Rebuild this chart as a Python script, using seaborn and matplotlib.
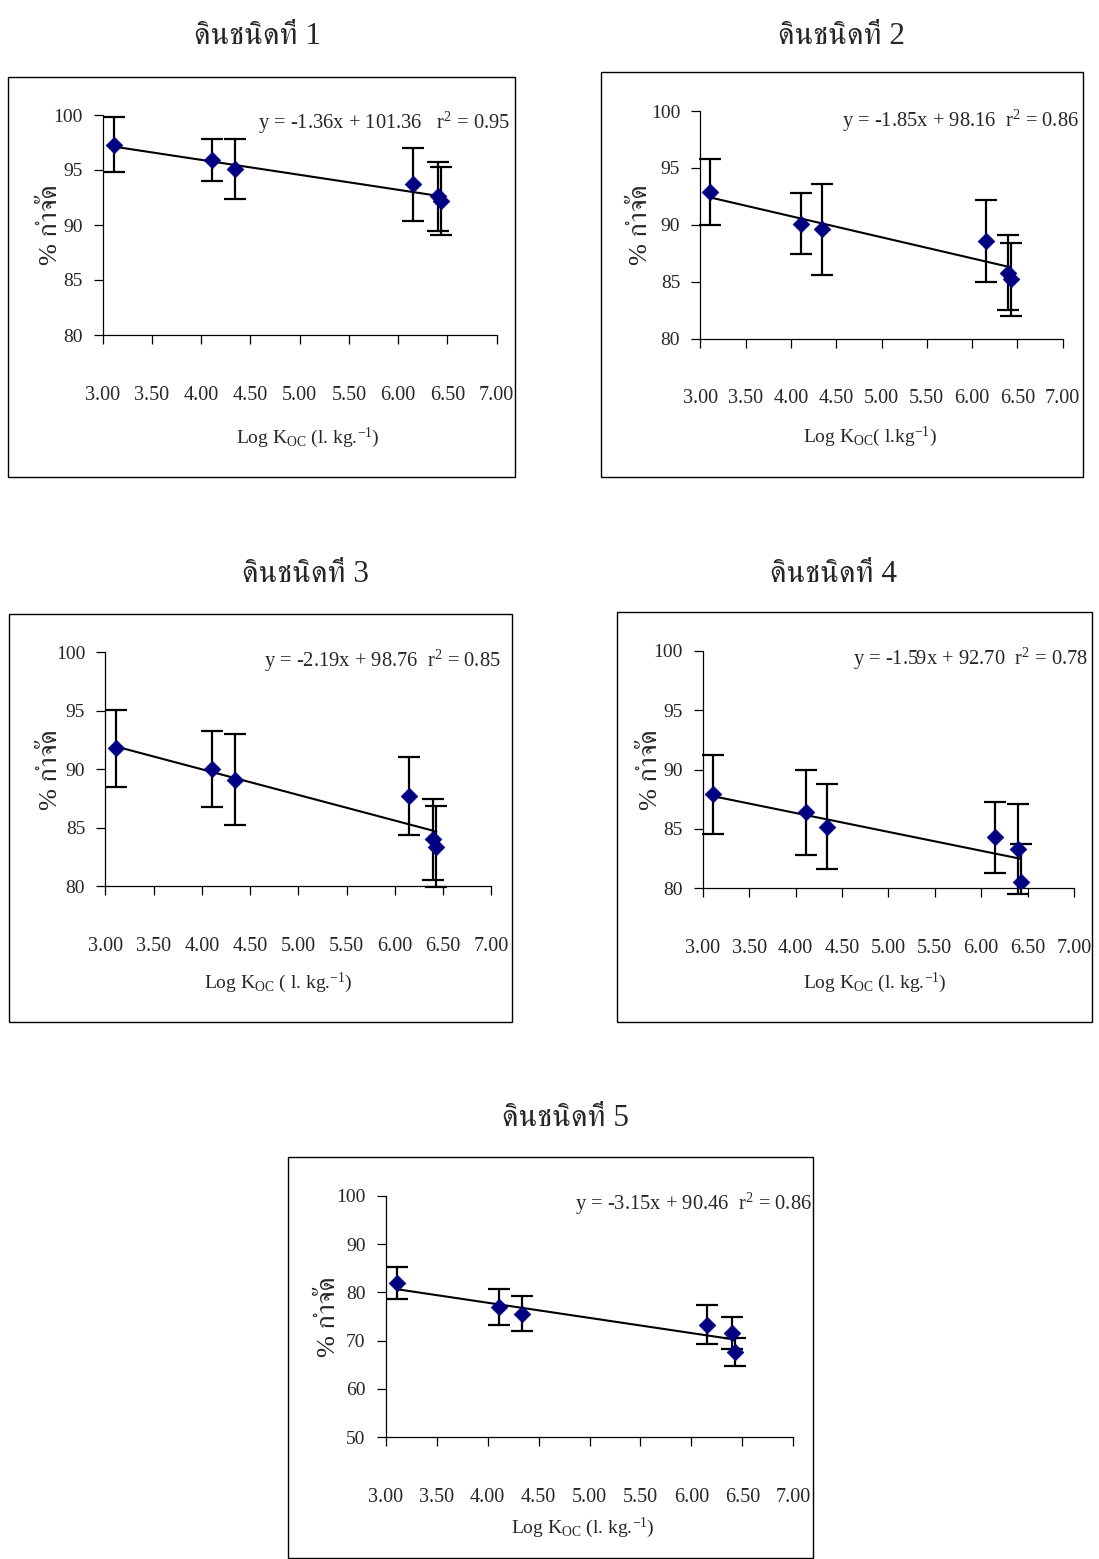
import numpy as np
import pandas as pd
import matplotlib
matplotlib.use("Agg")
import matplotlib.pyplot as plt
import seaborn as sns
from matplotlib import font_manager
from matplotlib.ft2font import FT2Font
from matplotlib.patches import Rectangle

# ---------------- data ----------------
log_koc = [3.11, 4.11, 4.34, 6.15, 6.40, 6.43]

soil_titles = ["ดินชนิดที่ 1", "ดินชนิดที่ 2", "ดินชนิดที่ 3", "ดินชนิดที่ 4", "ดินชนิดที่ 5"]

removal_soil1 = [97.3, 95.9, 95.1, 93.7, 92.6, 92.2]
error_soil1 = [2.5, 1.9, 2.7, 3.3, 3.1, 3.1]
removal_soil2 = [92.9, 90.1, 89.6, 88.6, 85.8, 85.2]
error_soil2 = [2.9, 2.7, 4.0, 3.6, 3.3, 3.2]
removal_soil3 = [91.8, 90.0, 89.1, 87.7, 84.0, 83.4]
error_soil3 = [3.3, 3.25, 3.9, 3.35, 3.5, 3.45]
removal_soil4 = [87.9, 86.4, 85.2, 84.3, 83.3, 80.5]
error_soil4 = [3.35, 3.6, 3.6, 3.0, 3.8, 3.2]
removal_soil5 = [82.0, 76.9, 75.6, 73.3, 71.5, 67.6]
error_soil5 = [3.3, 3.75, 3.7, 4.0, 3.3, 2.9]

slopes = [-1.36, -1.85, -2.19, -1.59, -3.15]
intercepts = [101.36, 98.16, 98.76, 92.70, 90.46]
r_squared = [0.95, 0.86, 0.85, 0.78, 0.86]

x_ticks = [3.00, 3.50, 4.00, 4.50, 5.00, 5.50, 6.00, 6.50, 7.00]
y_ticks_soil1to4 = [80, 85, 90, 95, 100]
y_ticks_soil5 = [50, 60, 70, 80, 90, 100]

y_label = "% กำจัด"
x_labels = [
    r"Log K$_{\mathrm{OC}}$ (l. kg.$^{\mathrm{-1}}$)",
    r"Log K$_{\mathrm{OC}}$( l.kg$^{\mathrm{-1}}$)",
    r"Log K$_{\mathrm{OC}}$ ( l. kg.$^{\mathrm{-1}}$)",
    r"Log K$_{\mathrm{OC}}$ (l. kg.$^{\mathrm{-1}}$)",
    r"Log K$_{\mathrm{OC}}$ (l. kg.$^{\mathrm{-1}}$)",
]

removals = [removal_soil1, removal_soil2, removal_soil3, removal_soil4, removal_soil5]
errors = [error_soil1, error_soil2, error_soil3, error_soil4, error_soil5]
yticks_all = [y_ticks_soil1to4] * 4 + [y_ticks_soil5]

# ---------------- style ----------------
sns.set_style("white")

thai_fonts = []
for fe in font_manager.fontManager.ttflist:
    try:
        cm = FT2Font(fe.fname).get_charmap()
        if 0x0E14 in cm and 0x0E34 in cm:
            thai_fonts.append(fe.name)
    except Exception:
        pass
thai_fonts = sorted(set(thai_fonts), key=lambda n: (0 if n == "FreeSerif" else (1 if "Serif" in n else 2), n))
thai_font = thai_fonts[0] if thai_fonts else "DejaVu Sans"

serif = "Liberation Serif"
plt.rcParams["font.family"] = [serif, thai_font, "DejaVu Sans"]
plt.rcParams["mathtext.fontset"] = "custom"
plt.rcParams["mathtext.rm"] = serif
plt.rcParams["mathtext.it"] = serif
plt.rcParams["mathtext.bf"] = serif

W, H = 1099, 1559
fig = plt.figure(figsize=(W / 100, H / 100), dpi=100)
fig.patch.set_facecolor("white")

# layout in pixels
axes_px = [(102.7, 115, 496.7, 335), (700.3, 111, 1062.7, 338.7),
           (105.3, 652.3, 491.3, 886.3), (702.7, 650.7, 1074, 888.3),
           (385.6, 1196, 793.4, 1437)]
frames_px = [(8, 77, 515, 477), (601, 72, 1083, 477), (9, 614, 512, 1022),
             (617, 612, 1092, 1022), (288, 1157, 813, 1558)]
title_px = [(257, 36), (842, 36), (305, 574), (833, 574), (566, 1118)]
eq_px = [(510, 123), (1079, 121), (501, 661), (1088, 659), (812, 1204)]
xlabel_px = [(308, 438), (870, 437), (278, 983), (875, 983), (583, 1528)]
ylabel_off = [41, 48, 43, 41, 46]

for i in range(5):
    x0, y0, x1, y1 = axes_px[i]
    ax = fig.add_axes([x0 / W, 1 - y1 / H, (x1 - x0) / W, (y1 - y0) / H])
    ax.set_facecolor("none")
    df = pd.DataFrame({"log_koc": log_koc, "removal": removals[i], "err": errors[i]})
    yt = yticks_all[i]

    # error bars
    eb = ax.errorbar(df["log_koc"], df["removal"], yerr=df["err"], fmt="none",
                     ecolor="black", elinewidth=1.6, capsize=8, capthick=1.6, zorder=3)
    clip = Rectangle((-0.05, -0.03), 1.1, 1.2, transform=ax.transAxes, visible=False)
    for art in list(eb.lines[1]) + list(eb.lines[2]):
        art.set_clip_path(clip)

    # trend line from the reported regression
    xs = np.array([min(log_koc), max(log_koc)])
    line_df = pd.DataFrame({"x": xs, "y": intercepts[i] + slopes[i] * xs})
    sns.lineplot(data=line_df, x="x", y="y", color="black", linewidth=1.5, ax=ax, zorder=2)

    sns.scatterplot(data=df, x="log_koc", y="removal", marker="D", s=72,
                    color="#000080", edgecolor="#000080", linewidth=0.5,
                    ax=ax, zorder=4, legend=False)

    ax.set_xlim(3, 7)
    ax.set_ylim(yt[0], yt[-1])
    ax.set_xticks(x_ticks)
    ax.set_xticklabels([f"{v:.2f}" for v in x_ticks])
    ax.set_yticks(yt)
    ax.set_yticklabels([str(v) for v in yt])
    for s in ["top", "right"]:
        ax.spines[s].set_visible(False)
    for s in ["left", "bottom"]:
        ax.spines[s].set_color("black")
        ax.spines[s].set_linewidth(0.9)
    ax.tick_params(axis="both", direction="out", length=6.5, width=0.9, color="black",
                   bottom=True, left=True)
    ax.tick_params(axis="x", labelsize=14.5, pad=30)
    ax.tick_params(axis="y", labelsize=14, pad=8)
    ax.set_xlabel("")
    ax.set_ylabel(y_label, fontsize=19)
    ax.yaxis.set_label_coords(-ylabel_off[i] / (x1 - x0), 0.5)

    fx0, fy0, fx1, fy1 = frames_px[i]
    fig.patches.append(Rectangle((fx0 / W, 1 - fy1 / H), (fx1 - fx0) / W, (fy1 - fy0) / H,
                                 transform=fig.transFigure, fill=False, edgecolor="black",
                                 linewidth=1.0))

    tx, ty = title_px[i]
    fig.text(tx / W, 1 - ty / H, soil_titles[i], ha="center", va="center", fontsize=22.5)

    ex, ey = eq_px[i]
    gap = "   " if i == 0 else "  "
    eq = f"y = {slopes[i]:.2f}x + {intercepts[i]:.2f}{gap}r$^{{2}}$ = {r_squared[i]:.2f}"
    fig.text(ex / W, 1 - ey / H, eq, ha="right", va="center", fontsize=14.8)

    lx, ly = xlabel_px[i]
    fig.text(lx / W, 1 - ly / H, x_labels[i], ha="center", va="center", fontsize=14)

fig.savefig("out.png", dpi=100)
